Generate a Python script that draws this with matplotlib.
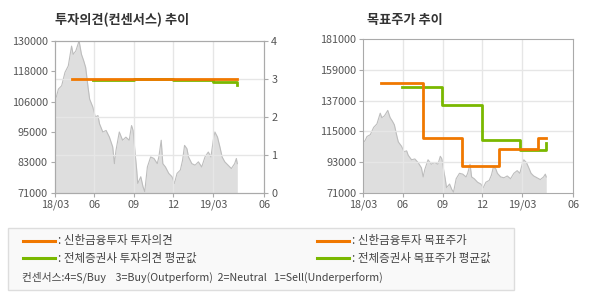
import matplotlib
matplotlib.use("Agg")
import matplotlib.pyplot as plt
from matplotlib.lines import Line2D
from matplotlib.patches import Rectangle

plt.rcParams['font.family'] = ['Noto Sans CJK KR', 'DejaVu Sans']

# months since 18/03
price_months = [0, 0.15, 0.28, 0.53, 0.78, 1.03, 1.28, 1.4, 1.6, 1.85, 2.03, 2.2, 2.35,
                2.53, 2.65, 2.9, 3.08, 3.28, 3.4, 3.65, 3.9, 4.15, 4.4, 4.53, 4.65, 4.9,
                5.15, 5.4, 5.65, 5.83, 5.95, 6.1, 6.2, 6.3, 6.53, 6.7, 6.83, 7.03, 7.28,
                7.53, 7.78, 7.9, 8.08, 8.2, 8.4, 8.65, 8.9, 9.08, 9.28, 9.53, 9.7, 9.85,
                10.03, 10.15, 10.4, 10.65, 10.9, 11.15, 11.4, 11.65, 11.85, 12.03, 12.15,
                12.35, 12.53, 12.7, 12.9, 13.15, 13.4, 13.65, 13.78, 13.85]
price = [106800, 108700, 111300, 112600, 117800, 120300, 128000, 124800, 126100, 130000,
         124800, 122300, 119700, 112000, 107400, 104200, 100400, 101000, 97800, 94600,
         95200, 92600, 88800, 82300, 87500, 94600, 91400, 92600, 91400, 97100, 95200,
         86200, 81000, 74600, 77200, 73300, 71400, 81000, 84900, 84300, 82300, 84900,
         91400, 82300, 81000, 78500, 77200, 74600, 78500, 79800, 83600, 89400, 88100,
         84900, 82300, 81700, 83000, 81000, 84900, 86800, 84900, 91400, 94600, 92600,
         88800, 84900, 83000, 81700, 80400, 82300, 84300, 82300]

# opinion (left chart, right axis)
op_shinhan_x = [1.3, 13.8]
op_shinhan = [3.0, 3.0]
op_avg_x = [2.9, 6.0, 9.0, 12.0, 13.8, 13.8]
op_avg = [2.96, 3.0, 2.96, 2.93, 2.93, 2.83]

# target price (right chart)
tp_shinhan_x = [1.33, 4.55, 7.45, 10.3, 13.25, 13.8]
tp_shinhan = [150000, 110000, 90000, 102500, 110000, 110000]
tp_avg_x = [2.93, 5.95, 9.0, 11.9, 13.87, 13.87]
tp_avg = [147000, 134000, 109000, 101500, 101500, 106500]

x_ticks = [0, 3, 6, 9, 12, 15.9]
x_labels = ['18/03', '06', '09', '12', '19/03', '06']
left_ticks = [71000, 82800, 94600, 106400, 118200, 130000]
left_labels = ['71000', '83000', '95000', '106000', '118000', '130000']
right_ticks = [71000, 93000, 115000, 137000, 159000, 181000]

ORANGE = '#f07800'
GREEN = '#7ab800'
GRID = '#e6e6e6'
SPINE = '#aaaaaa'
TXT = '#555555'

fig = plt.figure(figsize=(5.9, 3.0), dpi=100)
fig.patch.set_facecolor('white')


def style(ax):
    ax.set_xlim(0, 15.9)
    ax.set_xticks(x_ticks)
    ax.set_xticklabels(x_labels)
    for s in ax.spines.values():
        s.set_color(SPINE)
    ax.tick_params(colors=SPINE, labelcolor=TXT, labelsize=7.8, length=3, width=0.8, pad=2)
    for x in x_ticks[1:-1]:
        ax.axvline(x, color=GRID, lw=1, zorder=1)


# left chart
ax1 = fig.add_axes([0.0927, 0.3577, 0.3553, 0.5057])
ax1.fill_between(price_months, price, 71000, color='#dedede', lw=0, zorder=0)
ax1.plot(price_months, price, color='#bdbdbd', lw=0.8, zorder=0.5)
ax1.set_ylim(71000, 130000)
ax1.set_yticks(left_ticks)
ax1.set_yticklabels(left_labels)
style(ax1)

ax1b = ax1.twinx()
ax1b.set_ylim(0, 4)
ax1b.set_yticks([0, 1, 2, 3, 4])
for s in ax1b.spines.values():
    s.set_color(SPINE)
ax1b.tick_params(colors=SPINE, labelcolor=TXT, labelsize=7.8, length=3, width=0.8, pad=2)
for v in [1, 2, 3]:
    ax1b.axhline(v, color=GRID, lw=1, zorder=1)
ax1b.step(op_avg_x, op_avg, where='post', color=GREEN, lw=2, zorder=3)
ax1b.plot(op_shinhan_x, op_shinhan, color=ORANGE, lw=2, zorder=4)

# right chart
ax2 = fig.add_axes([0.6158, 0.3577, 0.3559, 0.5113])
ax2.fill_between(price_months, price, 71000, color='#dedede', lw=0, zorder=0)
ax2.plot(price_months, price, color='#bdbdbd', lw=0.8, zorder=0.5)
ax2.set_ylim(71000, 181000)
ax2.set_yticks(right_ticks)
ax2.set_yticklabels([str(v) for v in right_ticks])
style(ax2)
for v in right_ticks[1:-1]:
    ax2.axhline(v, color=GRID, lw=1, zorder=1)
ax2.step(tp_avg_x, tp_avg, where='post', color=GREEN, lw=2, zorder=3)
ax2.step(tp_shinhan_x, tp_shinhan, where='post', color=ORANGE, lw=2, zorder=4)

# titles
fig.text(55 / 590, 1 - 20 / 300, '투자의견(컨센서스) 추이', fontsize=9.5, fontweight='bold',
         color='#333333', va='center', ha='left')
fig.text(367 / 590, 1 - 20 / 300, '목표주가 추이', fontsize=9.5, fontweight='bold',
         color='#333333', va='center', ha='left')

# legend box (pixel coordinates)
lg = fig.add_axes([0, 0, 1, 1], zorder=-1)
lg.set_xlim(0, 590)
lg.set_ylim(300, 0)
lg.axis('off')
lg.add_patch(Rectangle((7.5, 227.5), 506, 62, facecolor='#f9f9f9', edgecolor='#dddddd', lw=1))
legend_items = [
    (22.5, 240.7, ORANGE, ': 신한금융투자 투자의견'),
    (22.5, 258.3, GREEN, ': 전체증권사 투자의견 평균값'),
    (316.5, 240.7, ORANGE, ': 신한금융투자 목표주가'),
    (316.5, 258.3, GREEN, ': 전체증권사 목표주가 평균값'),
]
for x0, y0, c, label in legend_items:
    lg.add_line(Line2D([x0, x0 + 32], [y0, y0], color=c, lw=2.2))
    lg.text(x0 + 35, y0, label, fontsize=8.3, color='#444444', va='center', ha='left')
lg.text(22, 277, '컨센서스:4=S/Buy    3=Buy(Outperform)  2=Neutral   1=Sell(Underperform)',
        fontsize=7.7, color='#444444', va='center', ha='left')

fig.savefig('out.png', dpi=100)
